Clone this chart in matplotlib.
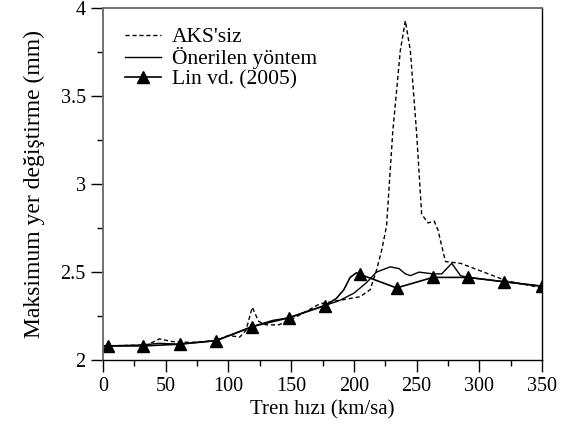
import matplotlib
matplotlib.use('Agg')
import matplotlib.pyplot as plt
from matplotlib.ticker import MultipleLocator

# AKS'siz (dashed)
aks_x = [0, 35, 45, 55, 70, 90, 100, 109, 114, 119, 124, 130, 140, 150, 173, 189, 205, 213,
         218, 222, 226, 231, 237, 241, 245, 250, 254, 259, 264, 267, 273, 285, 322, 350]
aks_y = [2.08, 2.085, 2.12, 2.105, 2.10, 2.11, 2.14, 2.13, 2.17, 2.30, 2.22, 2.20, 2.20, 2.23,
         2.32, 2.34, 2.36, 2.40, 2.51, 2.62, 2.76, 3.30, 3.76, 3.93, 3.76, 3.29, 2.83, 2.78,
         2.79, 2.74, 2.56, 2.55, 2.45, 2.41]

# Önerilen yöntem (solid)
oner_x = [0, 30, 45, 60, 75, 90, 105, 119, 135, 148, 160, 177, 189, 200, 210, 218, 229, 236,
          241, 245, 252, 263, 270, 278, 285, 291, 320, 350]
oner_y = [2.08, 2.085, 2.095, 2.09, 2.10, 2.11, 2.15, 2.19, 2.225, 2.24, 2.27, 2.31, 2.34,
          2.38, 2.44, 2.50, 2.53, 2.52, 2.49, 2.48, 2.50, 2.49, 2.49, 2.55, 2.48, 2.47,
          2.445, 2.42]

# Lin vd. (2005) - line points, triangles drawn at lin_marks
lin_x = [4, 32, 61, 90, 119, 148, 177, 186, 192, 197, 202, 205, 234, 263, 291, 320, 350]
lin_y = [2.08, 2.08, 2.09, 2.11, 2.19, 2.24, 2.31, 2.35, 2.40, 2.47, 2.496, 2.487, 2.41,
         2.47, 2.47, 2.445, 2.42]
lin_marks = [0, 1, 2, 3, 4, 5, 6, 11, 12, 13, 14, 15, 16]

plt.rcParams['font.family'] = ['Liberation Serif', 'DejaVu Serif']
plt.rcParams['font.size'] = 15

fig = plt.figure(figsize=(5.7, 4.45), dpi=100)
ax = fig.add_axes([0.1807, 0.191, 0.7703, 0.79])

ax.plot(aks_x, aks_y, color='black', lw=1.0, linestyle=(0, (3, 2)), label="AKS'siz")
ax.plot(oner_x, oner_y, color='black', lw=1.0, label='Önerilen yöntem')
ax.plot(lin_x, lin_y, color='black', lw=1.2, marker='^', markersize=8,
        markevery=lin_marks, label='Lin vd. (2005)')

ax.set_xlim(0, 350)
ax.set_ylim(2, 4)
ax.xaxis.set_major_locator(MultipleLocator(50))
ax.xaxis.set_minor_locator(MultipleLocator(25))
ax.yaxis.set_major_locator(MultipleLocator(0.5))
ax.yaxis.set_minor_locator(MultipleLocator(0.25))
ax.yaxis.set_major_formatter(plt.FuncFormatter(lambda v, p: '%g' % v))
ax.tick_params(which='major', direction='out', length=8.5, width=1, pad=4, labelsize=14.5)
ax.tick_params(which='minor', direction='out', length=4.5, width=1)

for s in ['left', 'top']:
    ax.spines[s].set_color('0.4')
    ax.spines[s].set_linewidth(1.3)
for s in ['bottom', 'right']:
    ax.spines[s].set_color('black')
    ax.spines[s].set_linewidth(1.0)

ax.set_xlabel('Tren hızı (km/sa)', labelpad=3)
ax.set_ylabel('Maksimum yer değiştirme (mm)', fontsize=17, labelpad=11)

ax.legend(loc='upper left', bbox_to_anchor=(0.015, 0.99), frameon=False, fontsize=15.5,
          handlelength=1.7, handletextpad=0.5, labelspacing=0.0, borderaxespad=0.3)

fig.savefig('out.png', dpi=100)
